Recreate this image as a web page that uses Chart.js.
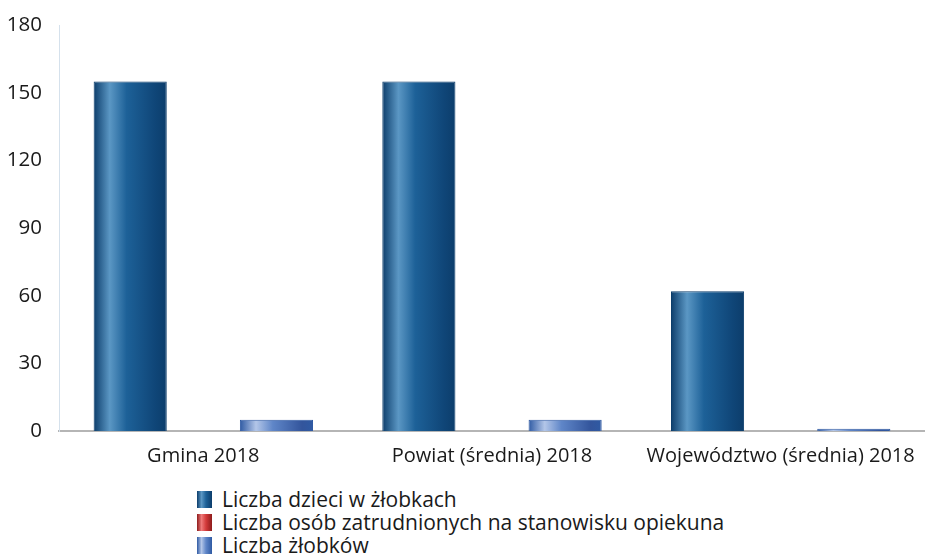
<!DOCTYPE html>
<html>
<head>
<meta charset="utf-8">
<script src="https://cdn.jsdelivr.net/npm/chart.js@4"></script>
<style>
  html,body{margin:0;padding:0;background:#fff;}
  #wrap{position:relative;width:925px;height:557px;}
  #box{position:absolute;left:0;top:0;width:925px;height:472px;}
  #legend{position:absolute;left:197px;top:488px;font:21px 'Open Sans',sans-serif;color:#1a1a1a;line-height:23px;}
  #legend div{display:flex;align-items:center;}
  #legend span.sw{display:inline-block;width:15px;height:17px;margin-right:10px;}
</style>
</head>
<body>
<div id="wrap">
  <div id="box"><canvas id="c"></canvas></div>
  <div id="legend"></div>
</div>
<script>
const categories=['Gmina 2018','Powiat (średnia) 2018','Województwo (średnia) 2018'];
const seriesNames=['Liczba dzieci w żłobkach','Liczba osób zatrudnionych na stanowisku opiekuna','Liczba żłobków'];
const dzieci=[155,155,62];
const opiekunowie=[0,0,0];
const zlobki=[5,5,1];
const yTicks=[0,30,60,90,120,150,180];

// shading stops for each series: edge, highlight, body
const shades=[
  ['#0c3d6b','#5b97c4','#1d6198','#0f4577'],
  ['#8e1c1c','#ef7a7a','#d33a3a','#a42424'],
  ['#2f5aa3','#b3c6e8','#5f86c8','#33559c']
];
const CAT_PCT=0.76;
const FONT="'Open Sans',sans-serif";

function barFill(dsIndex){
  return ctx=>{
    const chart=ctx.chart, xs=chart.scales.x;
    const s=shades[dsIndex];
    if(!xs||ctx.dataIndex===undefined)return s[2];
    const cw=xs.width/categories.length*CAT_PCT, bw=cw/3;
    const left=xs.getPixelForValue(ctx.dataIndex)-cw/2+dsIndex*bw;
    if(!isFinite(left)||!isFinite(bw)||bw<=0)return s[2];
    const g=chart.ctx.createLinearGradient(left,0,left+bw,0);
    g.addColorStop(0,s[0]);g.addColorStop(0.22,s[1]);g.addColorStop(0.45,s[2]);
    g.addColorStop(0.85,s[3]);g.addColorStop(1,s[0]);
    return g;
  };
}

const data=[dzieci,opiekunowie,zlobki];
const chart=new Chart(document.getElementById('c'),{
  type:'bar',
  data:{labels:categories,datasets:data.map((d,i)=>({
    label:seriesNames[i],data:d,backgroundColor:barFill(i),
    borderColor:shades[i][0],borderWidth:{left:1,right:1,top:1,bottom:0},
    categoryPercentage:CAT_PCT,barPercentage:1
  }))},
  options:{
    responsive:true,maintainAspectRatio:false,animation:false,
    layout:{padding:{left:0,right:0,top:25,bottom:2}},
    plugins:{legend:{display:false},tooltip:{enabled:false}},
    scales:{
      x:{grid:{display:false,drawTicks:false},border:{color:'#b5b5b5',width:2},
        afterFit:ax=>{ax.height=39;ax.paddingLeft=0;ax.paddingRight=0;},
        ticks:{color:'#1a1a1a',padding:13,maxRotation:0,autoSkip:false,font:{family:FONT,size:20}}},
      y:{min:0,max:180,afterBuildTicks:ax=>{ax.ticks=yTicks.map(v=>({value:v}));},
        afterFit:ax=>{ax.width=59;ax.paddingTop=0;ax.paddingBottom=0;},
        grid:{display:false,drawTicks:false},border:{color:'#d5e1ec',width:1},
        ticks:{color:'#1a1a1a',padding:17,font:{family:FONT,size:20.5}}}
    }
  }
});

const lg=document.getElementById('legend');
seriesNames.forEach((n,i)=>{
  const row=document.createElement('div');
  const sw=document.createElement('span');sw.className='sw';
  sw.style.background=`linear-gradient(90deg,${shades[i][0]},${shades[i][1]} 30%,${shades[i][2]} 60%,${shades[i][0]})`;
  row.appendChild(sw);row.appendChild(document.createTextNode(n));lg.appendChild(row);
});
</script>
</body>
</html>
